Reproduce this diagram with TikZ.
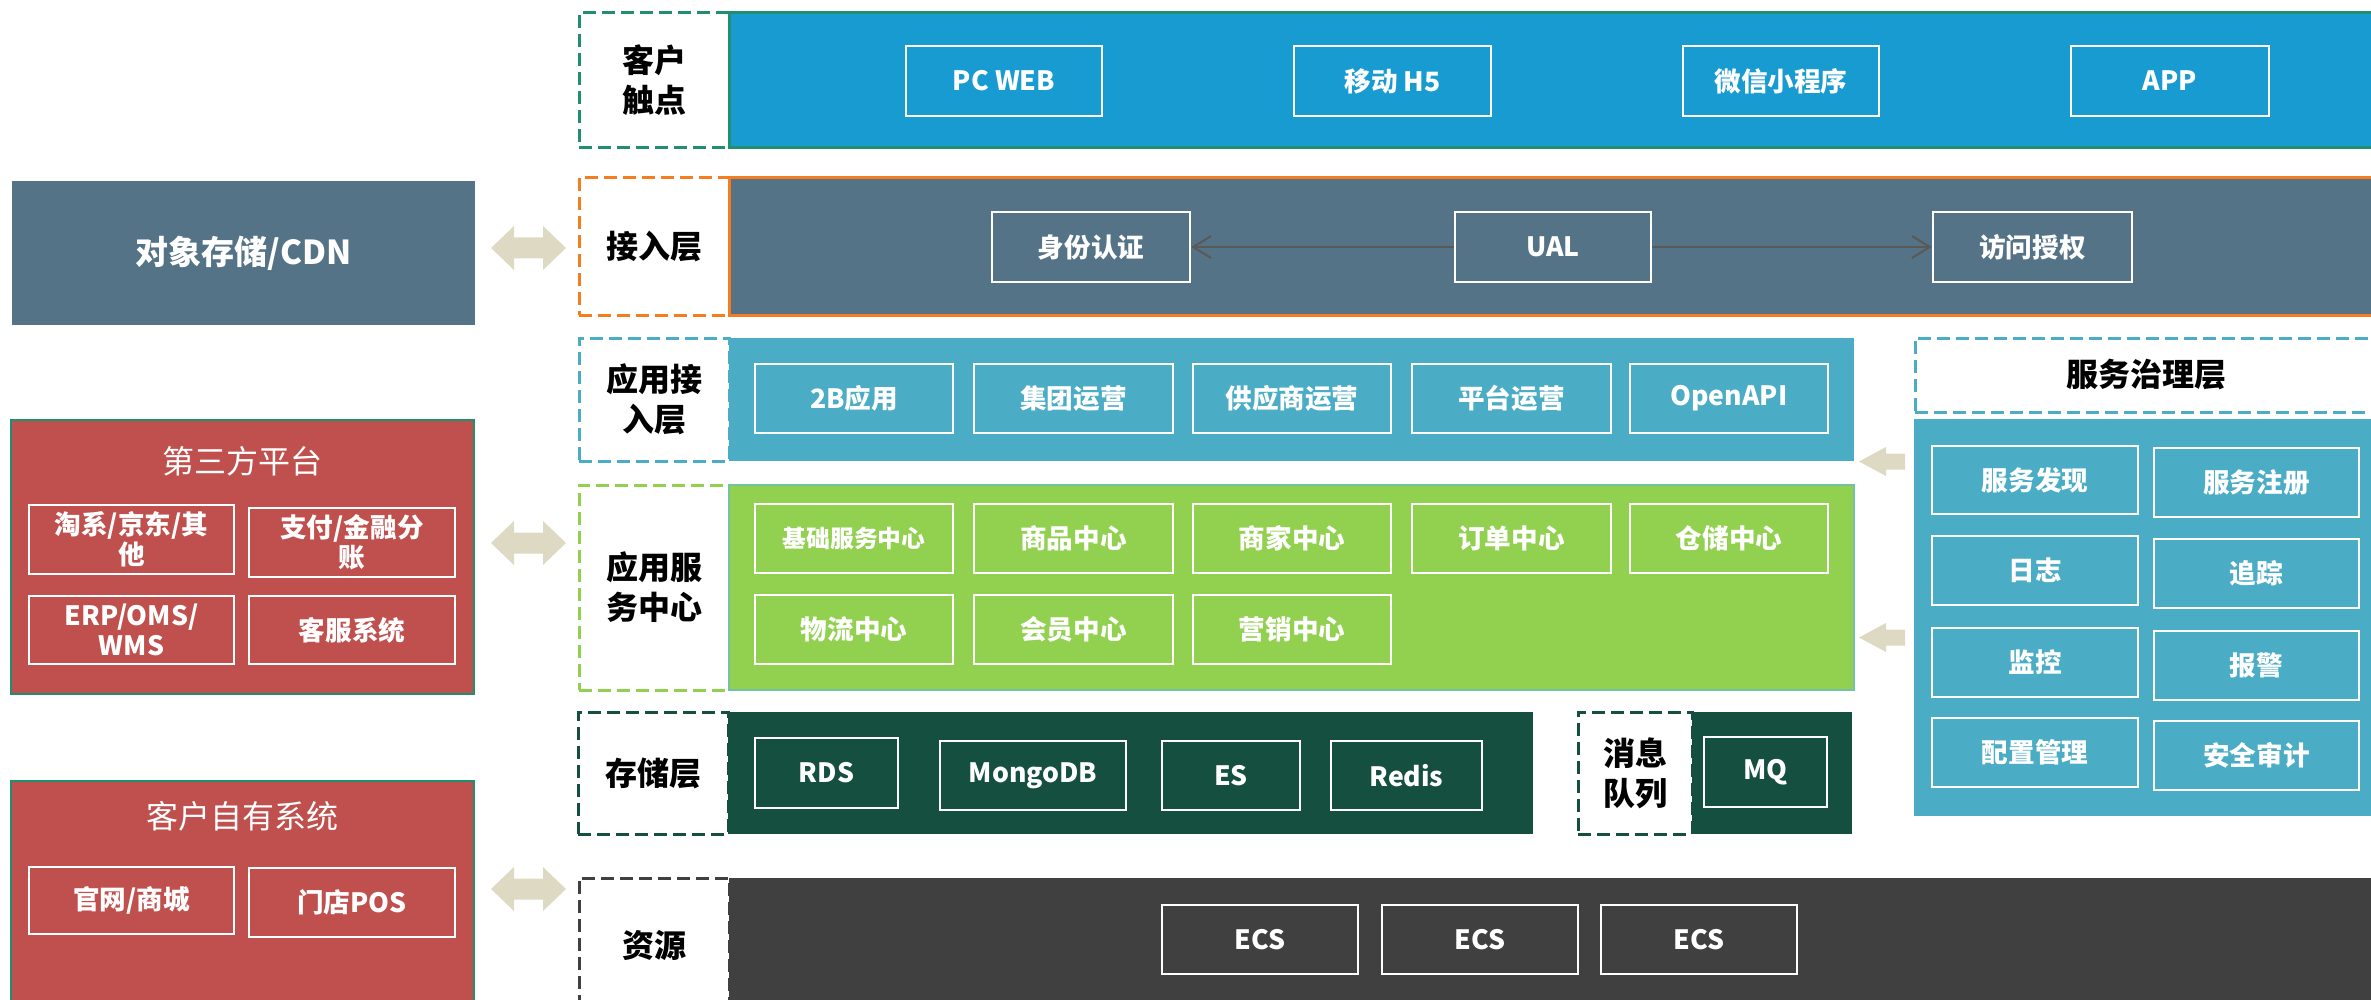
\documentclass[tikz,border=0pt]{standalone}
\usepackage{fontspec}
\setmainfont{Noto Sans CJK SC}
\usetikzlibrary{fit,arrows.meta}
\definecolor{topblue}{HTML}{179BD1}
\definecolor{topgreen}{HTML}{1F8F6F}
\definecolor{slate}{HTML}{557387}
\definecolor{orng}{HTML}{F47D20}
\definecolor{aqua}{HTML}{4BACC6}
\definecolor{lgreen}{HTML}{92D050}
\definecolor{tealb}{HTML}{72C3A5}
\definecolor{dgreen}{HTML}{144F3F}
\definecolor{dgray}{HTML}{404040}
\definecolor{redc}{HTML}{C0504D}
\definecolor{redb}{HTML}{1E9070}
\definecolor{tan}{HTML}{DDD9C3}
\definecolor{conn}{HTML}{595959}
% box drawn by fit, text placed separately at its centre
\newcommand\bx[4]{\node[#1, fit={#2}] (#3) {};
  \node[#1, draw=none, fill=none, inner sep=0pt] (#3t) at (#3.center) {#4};}
\newcommand\bxe[3]{\node[#1, fit={#2}] (#3) {};}
\begin{document}
\begin{tikzpicture}[x=0.5pt,y=-0.5pt,
  wb/.style={draw=white, line width=1.2pt, text=white, font=\bfseries\fontsize{13.3}{15}\selectfont, align=center, inner sep=0pt},
  lab/.style={fill=white, dash pattern=on 6.5pt off 3pt, line width=1.5pt, font=\bfseries\fontsize{16}{20}\selectfont, align=center, inner sep=0pt},
  band/.style={inner sep=0pt},
  panel/.style={fill=redc, draw=redb, line width=1.2pt, inner sep=0pt},
  ptitle/.style={text=white, font=\fontsize{16}{19}\selectfont},
  conn/.style={draw=conn, line width=1pt, -{Straight Barb[length=9pt,width=11pt]}},
  bigarrow/.style={fill=tan}
]
\clip (0,0) rectangle (2371,1000);
\fill[white] (0,0) rectangle (2371,1000);

% ---------- left column ----------
\bx{band, fill=slate, text=white, font=\bfseries\fontsize{16.5}{20}\selectfont}{(12,181)(475,325)}{cdn}{对象存储/CDN}

\bxe{panel}{(11,420)(474,694)}{dsf}
\node[ptitle] (dsft) at (242,461) {第三方平台};
\bx{wb}{(29,505)(234,574)}{tx}{淘系/京东/其\\他}
\bx{wb}{(249,508)(455,577)}{zf}{支付/金融分\\账}
\bx{wb}{(29,596)(234,664)}{erp}{ERP/OMS/\\WMS}
\bx{wb}{(249,596)(455,664)}{kf}{客服系统}

\bxe{panel}{(11,781)(474,1012)}{khzy}
\node[ptitle] (khzyt) at (242,816) {客户自有系统};
\bx{wb}{(29,867)(234,934)}{gw}{官网/商城}
\bx{wb}{(249,868)(455,937)}{md}{门店POS}

% double arrows
\foreach \cy in {248,543,889}{
  \fill[tan] (491,\cy) -- (514,\cy-22) -- (514,\cy-10.5) -- (543,\cy-10.5) -- (543,\cy-22) -- (566,\cy)
    -- (543,\cy+22) -- (543,\cy+10.5) -- (514,\cy+10.5) -- (514,\cy+22) -- cycle;
}

% ---------- row 1: 客户触点 ----------
\bx{lab, draw=topgreen}{(579,13)(729,148)}{l1}{客户\\触点}
\bxe{band, fill=topblue, draw=topgreen, line width=1.5pt}{(729,13)(2385,148)}{b1}
\bx{wb}{(906,46)(1102,116)}{pcweb}{PC WEB}
\bx{wb}{(1294,46)(1491,116)}{h5}{移动 H5}
\bx{wb}{(1683,46)(1879,116)}{wx}{微信小程序}
\bx{wb}{(2071,46)(2269,116)}{app}{APP}

% ---------- row 2: 接入层 ----------
\bx{lab, draw=orng}{(579,178)(729,315)}{l2}{接入层}
\bxe{band, fill=slate, draw=orng, line width=1.5pt}{(729,178)(2385,315)}{b2}
\bx{wb}{(992,212)(1190,282)}{sfrz}{身份认证}
\bx{wb}{(1455,212)(1651,282)}{ual}{UAL}
\bx{wb}{(1933,212)(2132,282)}{fwsq}{访问授权}
\draw[conn] (ual.west) -- (sfrz.east);
\draw[conn] (ual.east) -- (fwsq.west);

% ---------- row 3: 应用接入层 ----------
\bx{lab, draw=aqua}{(579,338)(729,461)}{l3}{应用接\\入层}
\bxe{band, fill=aqua}{(729,338)(1854,461)}{b3}
\bx{wb}{(755,364)(953,433)}{b2b}{2B应用}
\bx{wb}{(974,364)(1173,433)}{jt}{集团运营}
\bx{wb}{(1193,364)(1391,433)}{gys}{供应商运营}
\bx{wb}{(1412,364)(1611,433)}{pt}{平台运营}
\bx{wb}{(1630,364)(1828,433)}{oapi}{OpenAPI}

% ---------- row 4: 应用服务中心 ----------
\bx{lab, draw=lgreen}{(579,485)(729,690)}{l4}{应用服\\务中心}
\bxe{band, fill=lgreen, draw=tealb, line width=1pt}{(729,485)(1854,690)}{b4}
\bx{wb, font=\bfseries\fontsize{11.9}{14}\selectfont}{(755,504)(953,573)}{jcfw}{基础服务中心}
\bx{wb}{(974,504)(1173,573)}{sp}{商品中心}
\bx{wb}{(1193,504)(1391,573)}{sj}{商家中心}
\bx{wb}{(1412,504)(1611,573)}{dd}{订单中心}
\bx{wb}{(1630,504)(1828,573)}{cc}{仓储中心}
\bx{wb}{(755,595)(953,664)}{wl}{物流中心}
\bx{wb}{(974,595)(1173,664)}{hy}{会员中心}
\bx{wb}{(1193,595)(1391,664)}{yx}{营销中心}

% ---------- row 5: 存储层 / 消息队列 ----------
\bx{lab, draw=dgreen}{(578,712)(728,834)}{l5}{存储层}
\bxe{band, fill=dgreen}{(728,712)(1533,834)}{b5}
\bx{wb}{(755,738)(898,808)}{rds}{RDS}
\bx{wb}{(940,741)(1126,810)}{mongo}{MongoDB}
\bx{wb}{(1162,741)(1300,810)}{es}{ES}
\bx{wb}{(1331,741)(1482,810)}{redis}{Redis}
\bx{lab, draw=dgreen}{(1578,712)(1692,834)}{l5b}{消息\\队列}
\bxe{band, fill=dgreen}{(1692,712)(1852,834)}{b5b}
\bx{wb}{(1704,737)(1827,807)}{mq}{MQ}

% ---------- row 6: 资源 ----------
\bx{lab, draw=dgray}{(579,878)(729,1012)}{l6}{资源}
\bxe{band, fill=dgray}{(729,878)(2385,1012)}{b6}
\bx{wb}{(1162,905)(1358,974)}{ecs1}{ECS}
\bx{wb}{(1382,905)(1578,974)}{ecs2}{ECS}
\bx{wb}{(1601,905)(1797,974)}{ecs3}{ECS}

% ---------- right: 服务治理层 ----------
\bxe{lab, draw=aqua}{(1915,338)(2380,412)}{lgov}
\node[font=\bfseries\fontsize{16}{20}\selectfont] (lgovt) at (2146,375) {服务治理层};
\bxe{band, fill=aqua}{(1914,419)(2385,816)}{gov}
\bx{wb}{(1932,446)(2138,514)}{fwfx}{服务发现}
\bx{wb}{(2154,448)(2359,517)}{fwzc}{服务注册}
\bx{wb}{(1932,536)(2138,605)}{rz}{日志}
\bx{wb}{(2154,539)(2359,608)}{zz}{追踪}
\bx{wb}{(1932,628)(2138,697)}{jk}{监控}
\bx{wb}{(2154,631)(2359,700)}{bj}{报警}
\bx{wb}{(1932,718)(2138,787)}{pz}{配置管理}
\bx{wb}{(2154,721)(2359,790)}{aq}{安全审计}

% left-pointing arrows
\foreach \cy in {461.5,637.5}{
  \fill[tan] (1859,\cy) -- (1886,\cy-14.5) -- (1886,\cy-8) -- (1905,\cy-8) -- (1905,\cy+8)
    -- (1886,\cy+8) -- (1886,\cy+14.5) -- cycle;
}
\end{tikzpicture}
\end{document}
